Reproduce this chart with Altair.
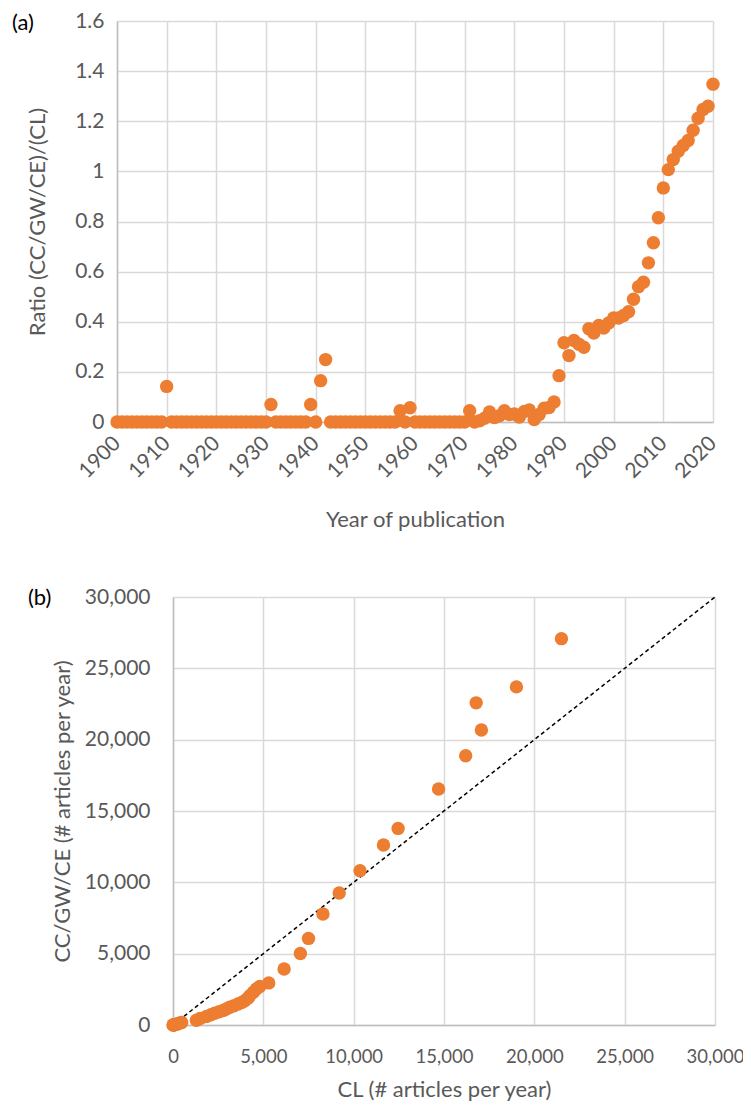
import altair as alt
import pandas as pd

# ---------- panel (a) data ----------
years = list(range(1900, 2021))
ratio = [
    # 1900-1909
    0, 0, 0, 0, 0, 0, 0, 0, 0, 0,
    # 1910-1919
    0.142, 0, 0, 0, 0, 0, 0, 0, 0, 0,
    # 1920-1929
    0, 0, 0, 0, 0, 0, 0, 0, 0, 0,
    # 1930-1939
    0, 0.07, 0, 0, 0, 0, 0, 0, 0, 0.07,
    # 1940-1949
    0, 0.165, 0.249, 0, 0, 0, 0, 0, 0, 0,
    # 1950-1959
    0, 0, 0, 0, 0, 0, 0, 0.045, 0, 0.057,
    # 1960-1969
    0, 0, 0, 0, 0, 0, 0, 0, 0, 0,
    # 1970-1979
    0, 0.045, 0.0, 0.005, 0.015, 0.04, 0.018, 0.025, 0.045, 0.03,
    # 1980-1989
    0.032, 0.02, 0.042, 0.048, 0.01, 0.03, 0.055, 0.058, 0.08, 0.185,
    # 1990-1999
    0.316, 0.265, 0.325, 0.31, 0.298, 0.372, 0.355, 0.385, 0.375, 0.395,
    # 2000-2009
    0.415, 0.415, 0.425, 0.44, 0.49, 0.54, 0.558, 0.635, 0.715, 0.815,
    # 2010-2020
    0.934, 1.007, 1.047, 1.08, 1.103, 1.123, 1.164, 1.212, 1.247, 1.26, 1.348,
]
year_ticks = [1900, 1910, 1920, 1930, 1940, 1950, 1960, 1970, 1980, 1990, 2000, 2010, 2020]
ratio_ticks = [0, 0.2, 0.4, 0.6, 0.8, 1.0, 1.2, 1.4, 1.6]

# ---------- panel (b) data ----------
cl = [0, 20, 50, 80, 120, 200, 300, 400, 480,
      1295, 1500, 1850, 2100, 2310, 2550, 2770, 2950, 3140, 3350, 3600, 3800, 3970,
      4150, 4250, 4450, 4617, 4800, 5300, 6150, 7050, 7500, 8300, 9200, 10350,
      11650, 12460, 14700, 16200, 16780, 17070, 19010, 21500]
cc = [0, 0, 10, 20, 30, 50, 100, 150, 180,
      330, 450, 600, 720, 830, 930, 1020, 1120, 1240, 1340, 1470, 1580, 1700,
      1880, 2050, 2300, 2520, 2700, 2950, 3920, 5010, 6070, 7780, 9250, 10820,
      12620, 13780, 16540, 18870, 22580, 20680, 23700, 27080]
diag_x = [0, 30000]
diag_y = [0, 30000]
count_ticks = [0, 5000, 10000, 15000, 20000, 25000, 30000]

ORANGE = "#ED7D31"
FONT = "Lato"
LABEL = "#595959"

df_a = pd.DataFrame({"year": years, "ratio": ratio})
df_b = pd.DataFrame({"cl": cl, "cc": cc})
df_d = pd.DataFrame({"cl": diag_x, "cc": diag_y})

# Bottom panel's plot area starts this many px right of the top one.
SHIFT = 56

pts_a = alt.Chart(df_a).mark_circle(size=180, color=ORANGE, opacity=1).encode(
    x=alt.X("year:Q",
            scale=alt.Scale(domain=[1900, 2020], nice=False, zero=False),
            axis=alt.Axis(values=year_ticks, format="d", labelAngle=-45,
                          labelAlign="right", labelBaseline="middle",
                          labelPadding=18, labelOverlap=False, labelFlush=False,
                          title="Year of publication", titlePadding=28)),
    y=alt.Y("ratio:Q",
            scale=alt.Scale(domain=[0, 1.6], nice=False),
            axis=alt.Axis(values=ratio_ticks, format=".1~f", labelPadding=13,
                          labelOverlap=False, labelFlush=False,
                          title="Ratio (CC/GW/CE)/(CL)", titlePadding=25)),
)
lab_a = alt.Chart(alt.Data(values=[{"t": "(a)"}])).mark_text(
    fontSize=22, font=FONT, color="black", align="left", baseline="middle"
).encode(x=alt.value(-105), y=alt.value(2), text="t:N")

top = alt.layer(pts_a, lab_a).properties(width=596, height=401)

diag = alt.Chart(df_d).mark_line(color="black", strokeDash=[4, 3], strokeWidth=1.5).encode(
    x=alt.X("cl:Q",
            scale=alt.Scale(domain=[0, 30000], nice=False, range=[SHIFT, SHIFT + 542]),
            axis=alt.Axis(values=count_ticks, format=",.0f", labelPadding=22,
                          labelFontSize=18.5,
                          labelOverlap=False, labelFlush=False,
                          title="CL (# articles per year)", titlePadding=14)),
    y=alt.Y("cc:Q",
            scale=alt.Scale(domain=[0, 30000], nice=False),
            axis=alt.Axis(values=count_ticks, format=",.0f", labelPadding=23,
                          labelOverlap=False, labelFlush=False, offset=-SHIFT,
                          title="CC/GW/CE (# articles per year)", titlePadding=10)),
)
pts_b = alt.Chart(df_b).mark_circle(size=180, color=ORANGE, opacity=1).encode(
    x="cl:Q", y="cc:Q"
)
lab_b = alt.Chart(alt.Data(values=[{"t": "(b)"}])).mark_text(
    fontSize=22, font=FONT, color="black", align="left", baseline="middle"
).encode(x=alt.value(-89), y=alt.value(1), text="t:N")

bottom = alt.layer(diag, pts_b, lab_b).properties(width=542, height=428)

chart = alt.vconcat(top, bottom, spacing=55).properties(
    padding={"left": 4, "top": 2, "right": -1, "bottom": 0},
).configure_axis(
    labelFont=FONT, labelFontSize=21, labelColor=LABEL,
    titleFont=FONT, titleFontSize=22, titleColor=LABEL, titleFontWeight="normal",
    gridColor="#D9D9D9", gridWidth=1.5, domainColor="#BFBFBF", domainWidth=1.5,
    ticks=False,
).configure_view(stroke=None)

chart.save("out.html", embed_options={"renderer": "svg", "actions": False})
